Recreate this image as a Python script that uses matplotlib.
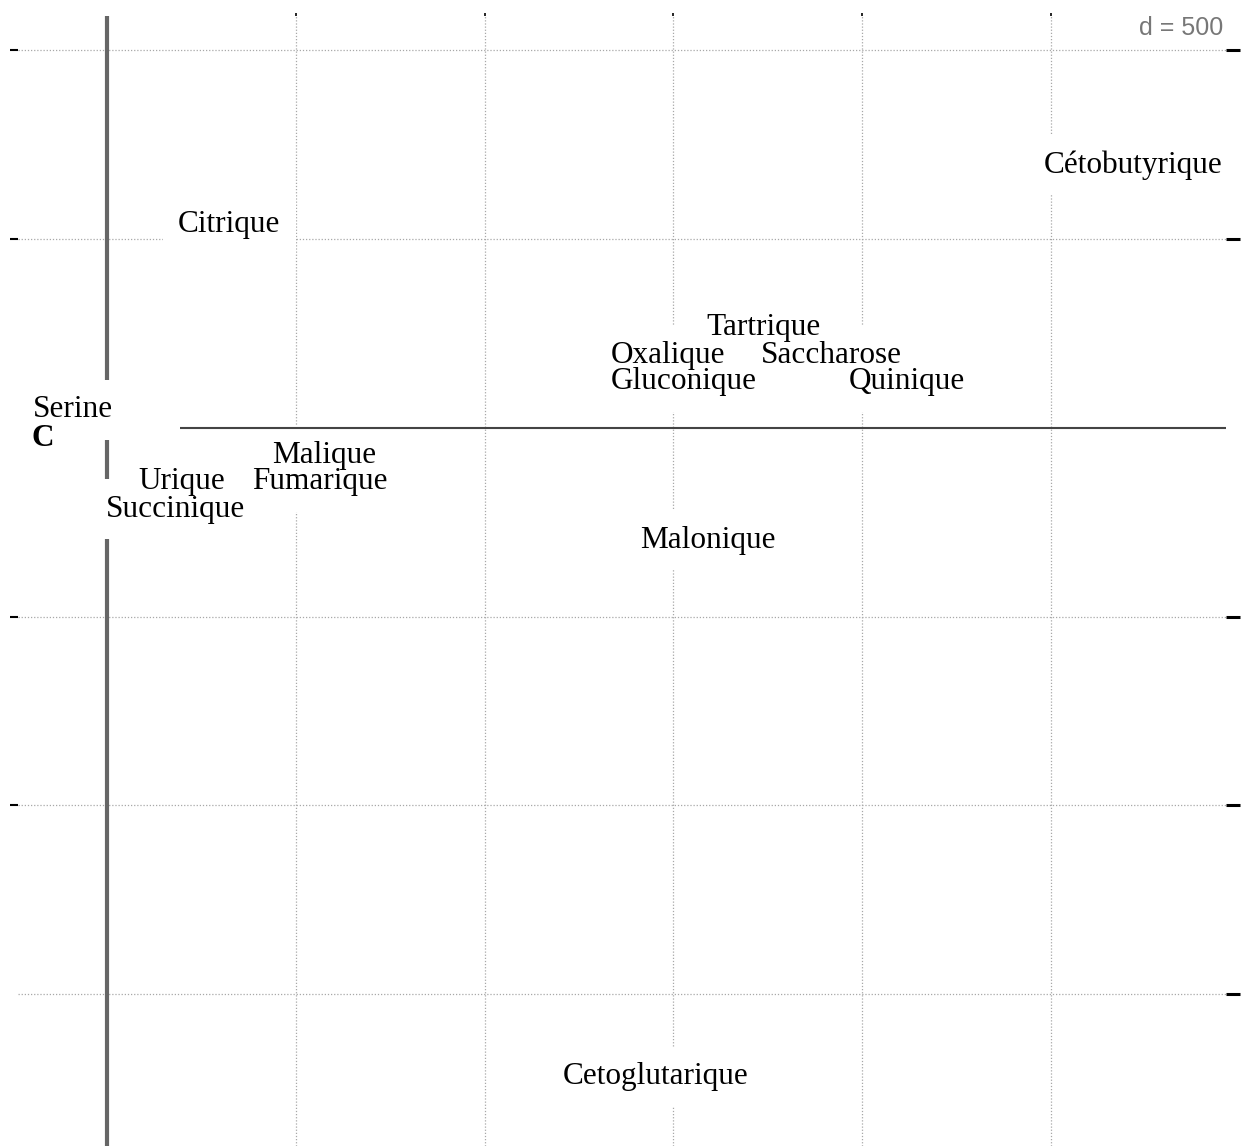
import matplotlib
matplotlib.use("Agg")
import matplotlib.pyplot as plt

# label coordinates (scale: grid cell d = 500)
labels = ["Cétobutyrique", "Citrique", "Tartrique", "Oxalique", "Saccharose",
          "Gluconique", "Quinique", "Serine", "C", "Malique", "Urique",
          "Fumarique", "Succinique", "Malonique", "Cetoglutarique"]
xs = [2719, 324, 1738, 1485, 1918, 1527, 2119, -89, -171, 576, 199, 563, 181, 1592, 1453]
ys = [697, 540, 265, 193, 193, 122, 122, 48, -29, -74, -143, -143, -215, -297, -1719]
bold = ["C"]

grid_x = [0, 500, 1000, 1500, 2000, 2500]
grid_y = [1000, 500, 0, -500, -1000, -1500]
left_ticks = [1000, 500, -500, -1000]
right_ticks = [1000, 500, -500, -1000, -1500]
top_ticks = [500, 1000, 1500, 2000, 2500]
h_segment = (193, 2964)   # visible part of the horizontal line at y = 0

W, H = 1245, 1146
fig = plt.figure(figsize=(W / 100, H / 100), dpi=100)
ax = fig.add_axes([18 / W, 0, (1226 - 18) / W, (1146 - 16) / H])
ax.set_xlim(-235.8, 2964)
ax.set_ylim(-1902, 1091)

for g in grid_x:
    ax.axvline(g, color="#a8a8a8", lw=0.9, ls=(0, (1, 1.5)), zorder=1)
for g in grid_y:
    if g == 0:
        continue  # covered by the solid segment / labels
    ax.axhline(g, color="#a8a8a8", lw=0.9, ls=(0, (1, 1.5)), zorder=1)

# thick vertical line through the origin, horizontal segment on top of the boxes
ax.axvline(0, color="#666666", lw=3.0, zorder=2)
ax.hlines(0, h_segment[0], h_segment[1], color="#444444", lw=1.5, zorder=3.5)

for s in ax.spines.values():
    s.set_visible(False)

ax.set_yticks(left_ticks)
ax.set_yticklabels([])
ax.tick_params(axis="y", left=True, length=6, width=1.5, color="black")
ax.set_xticks(top_ticks)
ax.set_xticklabels([])
ax.tick_params(axis="x", bottom=False, top=True, labeltop=False, labelbottom=False,
               length=2, width=1.2, color="black")

sec = ax.secondary_yaxis("right")
sec.set_yticks(right_ticks)
sec.set_yticklabels([])
sec.tick_params(length=10, width=2.2, color="black")
sec.spines["right"].set_visible(False)

# white boxes first, then the texts on top
for lab, x, y in zip(labels, xs, ys):
    w = "bold" if lab in bold else "normal"
    ax.text(x, y, lab, ha="center", va="center", fontsize=22.5,
            family="Liberation Serif", weight=w, color="none", zorder=3,
            bbox=dict(boxstyle="square,pad=0.5", fc="white", ec="none"))
for lab, x, y in zip(labels, xs, ys):
    w = "bold" if lab in bold else "normal"
    ax.text(x, y, lab, ha="center", va="center", fontsize=22.5,
            family="Liberation Serif", weight=w, color="black", zorder=4)

ax.text(0.9975, 1.0, "d = 500", transform=ax.transAxes, ha="right", va="top",
        fontsize=18, family="Liberation Sans", color="#777777", zorder=5,
        bbox=dict(boxstyle="square,pad=0.15", fc="white", ec="none"))

fig.savefig("out.png", dpi=100)
